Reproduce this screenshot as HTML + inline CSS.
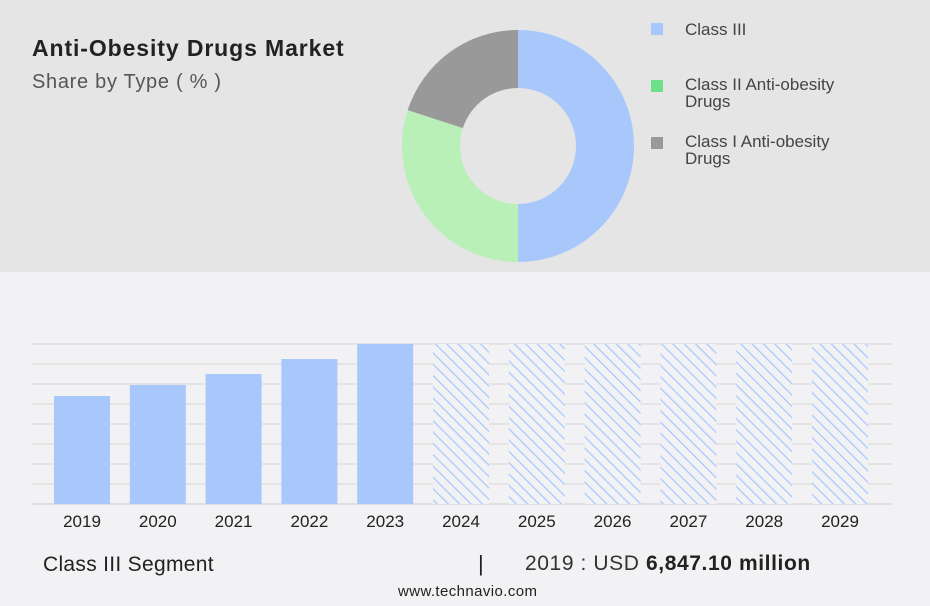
<!DOCTYPE html>
<html><head><meta charset="utf-8"><style>
body{margin:0;width:930px;height:606px;background:#f2f2f4;font-family:"Liberation Sans",sans-serif;position:relative;overflow:hidden}
.topp{position:absolute;left:0;top:0;width:930px;height:272px;background:#e5e5e5}
.t{position:absolute;color:#333;white-space:nowrap}
</style></head><body>
<div class="topp"></div>
<div class="t" style="left:32px;top:35px;font-size:23px;font-weight:bold;color:#222;letter-spacing:0.9px">Anti-Obesity Drugs Market</div>
<div class="t" style="left:32px;top:71px;font-size:20px;color:#555;letter-spacing:0.7px">Share by Type ( % )</div>
<svg id="donut" width="930" height="272" style="position:absolute;left:0;top:0"></svg>
<div style="position:absolute;left:651px;top:20px;font-size:17px;color:#444"><span style="display:inline-block;width:12px;height:12px;background:#a8c8fc;margin-right:22px"></span>Class III</div>
<div style="position:absolute;left:651px;top:76px;font-size:17px;color:#444;line-height:17px"><span style="position:absolute;left:0;top:4px;width:12px;height:12px;background:#6fe08a"></span><div style="margin-left:34px;white-space:nowrap">Class II Anti-obesity<br>Drugs</div></div>
<div style="position:absolute;left:651px;top:133px;font-size:17px;color:#444;line-height:17px"><span style="position:absolute;left:0;top:4px;width:12px;height:12px;background:#999"></span><div style="margin-left:34px;white-space:nowrap">Class I Anti-obesity<br>Drugs</div></div>
<svg id="bars" width="930" height="606" style="position:absolute;left:0;top:0">
<defs><pattern id="hatch" patternUnits="userSpaceOnUse" width="8" height="8" patternTransform="rotate(-45)"><rect width="8" height="8" fill="#f2f2f4"/><line x1="0" y1="0" x2="0" y2="8" stroke="#a8c8fc" stroke-width="2.5"/></pattern></defs>
</svg>
<div class="t" style="left:43px;top:553px;font-size:21px;color:#222;letter-spacing:0.3px">Class III Segment</div>
<div class="t" style="left:478px;top:551px;font-size:22px;color:#222">|</div>
<div class="t" style="left:525px;top:552px;font-size:21px;color:#333;letter-spacing:0.6px">2019 : USD <b style="color:#222">6,847.10 million</b></div>
<div class="t" style="left:398px;top:583px;font-size:15px;color:#222;letter-spacing:0.4px">www.technavio.com</div>
<script>
const shareLabels=["Class III","Class II Anti-obesity Drugs","Class I Anti-obesity Drugs"];
const shareValues=[50,30,20];
const shareColors=["#a8c8fc","#b8f0b8","#999999"];
const years=["2019","2020","2021","2022","2023","2024","2025","2026","2027","2028","2029"];
const values=[6847.1,7545,8243,9193,10144,null,null,null,null,null,null];
const forecast=[false,false,false,false,false,true,true,true,true,true,true];
const yMax=10144;
const NS="http://www.w3.org/2000/svg";
const dn=document.getElementById('donut');
const cx=518,cy=146,R=116,r=58;
let tot=shareValues.reduce((a,b)=>a+b,0),acc=0;
function pt(a,rad){return [cx+rad*Math.sin(a),cy-rad*Math.cos(a)];}
shareValues.forEach((v,i)=>{
 const a0=acc/tot*2*Math.PI;acc+=v;const a1=acc/tot*2*Math.PI;
 const l=(a1-a0)>Math.PI?1:0;
 const [xa,ya]=pt(a0,R),[xb,yb]=pt(a1,R),[xc,yc]=pt(a1,r),[xd,yd]=pt(a0,r);
 const p=document.createElementNS(NS,'path');
 p.setAttribute('d',`M${xa},${ya}A${R},${R} 0 ${l} 1 ${xb},${yb}L${xc},${yc}A${r},${r} 0 ${l} 0 ${xd},${yd}Z`);
 p.setAttribute('fill',shareColors[i]);
 
 
 dn.appendChild(p);
});
const sv=document.getElementById('bars');
const baseY=504,topY=344,leftX=32,rightX=892,pitch=75.8,firstX=82,bw=56;
const yS=v=>baseY-(v/yMax)*(baseY-topY);
for(let i=0;i<=8;i++){
 const g=document.createElementNS(NS,'line');
 const gy=topY+i*20;
 g.setAttribute('x1',leftX);g.setAttribute('x2',rightX);g.setAttribute('y1',gy);g.setAttribute('y2',gy);
 g.setAttribute('stroke',i==8?'#ccc':'#d6d6d6');g.setAttribute('stroke-width','1');
 
 
 sv.appendChild(g);
}
years.forEach((yr,i)=>{
 const cxb=firstX+i*pitch;
 const b=document.createElementNS(NS,'rect');
 const h=forecast[i]?yMax:values[i];
 b.setAttribute('x',cxb-bw/2);b.setAttribute('width',bw);
 b.setAttribute('y',yS(h));b.setAttribute('height',baseY-yS(h));
 b.setAttribute('fill',forecast[i]?'url(#hatch)':'#a8c8fc');
 
 
 sv.appendChild(b);
 const t=document.createElementNS(NS,'text');
 t.setAttribute('x',cxb);t.setAttribute('y',527);t.setAttribute('text-anchor','middle');
 t.setAttribute('font-size','17');t.setAttribute('fill','#222');
 t.setAttribute('font-family','Liberation Sans, sans-serif');
 t.textContent=yr;
 
 
 sv.appendChild(t);
});
</script>
</body></html>
